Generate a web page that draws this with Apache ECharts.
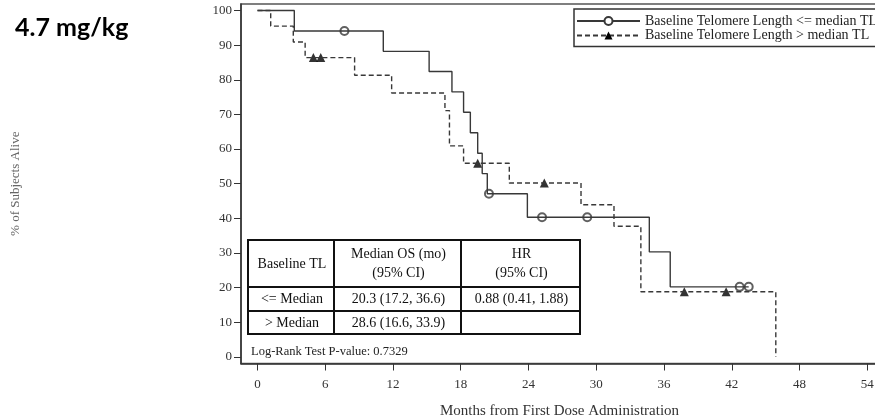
<!DOCTYPE html>
<html>
<head>
<meta charset="utf-8">
<script src="https://cdn.jsdelivr.net/npm/echarts@6/dist/echarts.min.js"></script>
<style>
html, body { margin: 0; padding: 0; background: #fff; }
#chart { width: 875px; height: 417px; }
</style>
</head>
<body>
<div id="chart"></div>
<script>
// tick labels
var xTicks = [0, 6, 12, 18, 24, 30, 36, 42, 48, 54];
var yTicks = [0, 10, 20, 30, 40, 50, 60, 70, 80, 90, 100];

// Baseline TL <= median : KM steps (months, % alive)
var shortTimes = [0, 3.26, 11.14, 15.2, 17.22, 18.25, 18.85, 19.5, 19.9, 20.35, 23.9, 34.7, 36.55, 43.5];
var shortSurv  = [100, 94.1, 88.2, 82.4, 76.5, 70.6, 64.7, 58.8, 52.9, 47.1, 40.3, 30.3, 20.2, 20.2];
var shortCensorTimes = [7.7, 20.5, 25.2, 29.2, 42.7, 43.5];
var shortCensorSurv  = [94.1, 47.1, 40.3, 40.3, 20.2, 20.2];

// Baseline TL > median
var longTimes = [0, 1.17, 3.17, 4.22, 8.6, 11.88, 16.6, 17.0, 18.25, 22.3, 28.65, 31.57, 33.95, 45.9];
var longSurv  = [100, 95.5, 90.9, 86.4, 81.3, 76.2, 71.1, 60.9, 55.9, 50.2, 43.9, 37.7, 18.8, 0];
var longCensorTimes = [4.95, 5.6, 19.5, 25.4, 37.8, 41.5];
var longCensorSurv  = [86.4, 86.4, 55.9, 50.2, 18.8, 18.8];

var seriesNames = ['Baseline Telomere Length <= median TL', 'Baseline Telomere Length > median TL'];

// summary table
var tableHeader = ['Baseline TL', 'Median OS (mo)\n(95% CI)', 'HR\n(95% CI)'];
var tableRows = [
    ['<= Median', '20.3 (17.2, 36.6)', '0.88 (0.41, 1.88)'],
    ['> Median', '28.6 (16.6, 33.9)', '']
];
var pValueText = 'Log-Rank Test P-value: 0.7329';

function pairs(xs, ys) {
    return xs.map(function (x, i) { return [x, ys[i]]; });
}

var serif = '"Liberation Serif", "DejaVu Serif", serif';
var ink = '#333';

// table geometry (pixels)
var colX = [248, 334, 461, 580];
var rowY = [240, 287, 311, 334];
var tableGraphics = [{
    type: 'rect', z: 100,
    shape: { x: colX[0], y: rowY[0], width: colX[3] - colX[0], height: rowY[3] - rowY[0] },
    style: { fill: '#fff', stroke: '#111', lineWidth: 2 }
}];
colX.slice(1, 3).forEach(function (x) {
    tableGraphics.push({ type: 'line', z: 101, shape: { x1: x, y1: rowY[0], x2: x, y2: rowY[3] }, style: { stroke: '#111', lineWidth: 2 } });
});
rowY.slice(1, 3).forEach(function (y) {
    tableGraphics.push({ type: 'line', z: 101, shape: { x1: colX[0], y1: y, x2: colX[3], y2: y }, style: { stroke: '#111', lineWidth: 2 } });
});
[tableHeader].concat(tableRows).forEach(function (row, r) {
    row.forEach(function (txt, c) {
        if (!txt) return;
        tableGraphics.push({
            type: 'text', z: 102,
            style: {
                text: txt,
                x: (colX[c] + colX[c + 1]) / 2 + 1,
                y: (rowY[r] + rowY[r + 1]) / 2 + 0.5,
                align: 'center', verticalAlign: 'middle',
                fontFamily: serif, fontSize: 14, lineHeight: 19, fill: '#111'
            }
        });
    });
});
tableGraphics.push({
    type: 'text', z: 102,
    style: {
        text: pValueText, x: 251, y: 352,
        align: 'left', verticalAlign: 'middle',
        fontFamily: serif, fontSize: 12.5, fill: '#222'
    }
});

var chart = echarts.init(document.getElementById('chart'));
chart.setOption({
    animation: false,
    title: {
        text: '4.7 mg/kg',
        left: 10, top: 10,
        textStyle: { fontFamily: 'Lato', fontWeight: 'bold', fontSize: 25, color: '#000' }
    },
    legend: {
        data: seriesNames,
        orient: 'vertical',
        left: 574, top: 9,
        padding: [5, 3, 4, 2],
        itemWidth: 63, itemHeight: 10, itemGap: 0.5,
        borderColor: '#333', borderWidth: 1.5,
        selectedMode: false,
        textStyle: { fontFamily: serif, fontSize: 14, lineHeight: 13, color: '#222' }
    },
    grid: {
        left: 241, top: 4, right: -3, bottom: 53.5,
        outerBoundsMode: 'none', containLabel: false,
        show: true, borderColor: '#555', borderWidth: 1.5
    },
    xAxis: {
        type: 'value',
        min: -1.46, max: 54.95,
        name: 'Months from First Dose Administration',
        nameLocation: 'middle', nameGap: 40,
        nameTextStyle: { fontFamily: serif, fontSize: 15, color: '#333' },
        splitLine: { show: false },
        axisLine: { show: true, onZero: false, lineStyle: { color: ink, width: 1.5 } },
        axisTick: { show: true, length: 7, customValues: xTicks, lineStyle: { color: ink } },
        axisLabel: { customValues: xTicks, margin: 15, fontFamily: serif, fontSize: 13, color: ink }
    },
    yAxis: {
        type: 'value',
        min: -1.93, max: 101.88,
        name: '% of Subjects Alive',
        nameLocation: 'middle', nameGap: 219,
        nameTextStyle: { fontFamily: serif, fontSize: 13, color: '#666' },
        splitLine: { show: false },
        axisLine: { show: true, onZero: false, lineStyle: { color: ink, width: 1.5 } },
        axisTick: { show: true, length: 7, customValues: yTicks, lineStyle: { color: ink } },
        axisLabel: { customValues: yTicks, margin: 9, fontFamily: serif, fontSize: 13, color: ink }
    },
    series: [
        {
            name: seriesNames[0],
            type: 'line', step: 'end',
            data: pairs(shortTimes, shortSurv),
            symbol: 'emptyCircle', symbolSize: 8, showSymbol: false,
            lineStyle: { color: '#383838', width: 1.4 },
            itemStyle: { color: '#383838', borderWidth: 1.2 }
        },
        {
            type: 'scatter',
            data: pairs(shortCensorTimes, shortCensorSurv),
            symbol: 'emptyCircle', symbolSize: 8,
            itemStyle: { color: '#383838', borderColor: '#383838', borderWidth: 1.2 }
        },
        {
            name: seriesNames[1],
            type: 'line', step: 'end',
            data: pairs(longTimes, longSurv),
            symbol: 'triangle', symbolSize: 8, showSymbol: false,
            lineStyle: { color: '#383838', width: 1.4, type: [5, 3] },
            itemStyle: { color: '#000' }
        },
        {
            type: 'scatter',
            data: pairs(longCensorTimes, longCensorSurv),
            symbol: 'triangle', symbolSize: 9,
            itemStyle: { color: '#000' }
        }
    ],
    graphic: tableGraphics
});
</script>
</body>
</html>
